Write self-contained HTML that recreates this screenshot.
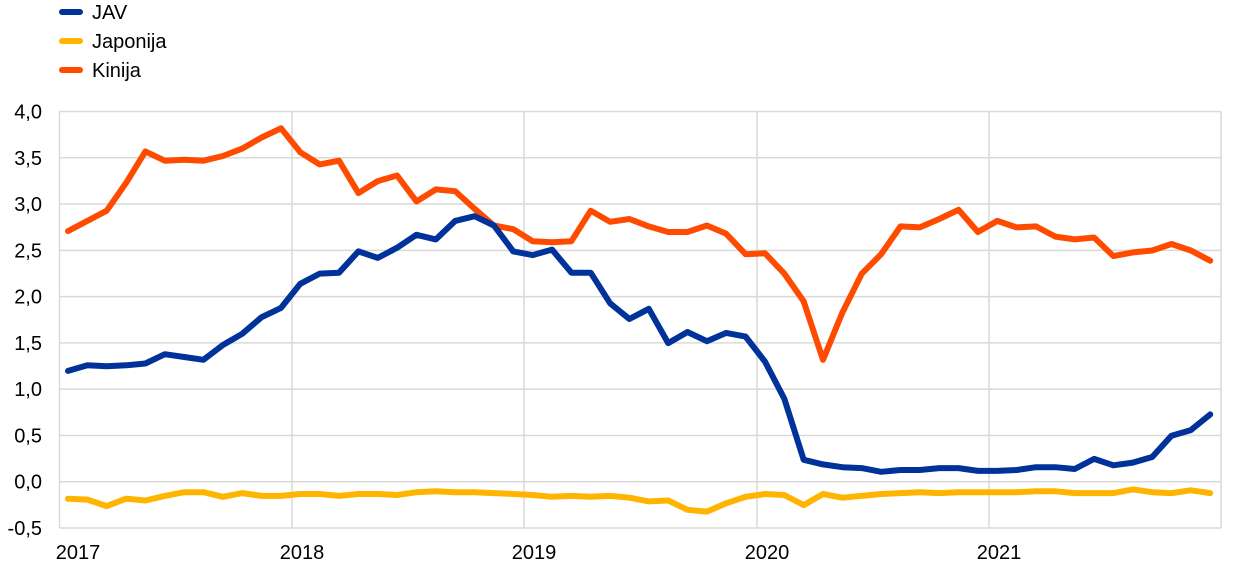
<!DOCTYPE html>
<html><head><meta charset="utf-8"><style>
body{margin:0;background:#fff;}
svg text{font-family:"Liberation Sans",Arial,sans-serif;fill:#000;}
</style></head><body>
<svg id="c" width="1240" height="578" xmlns="http://www.w3.org/2000/svg">
<g stroke="#d9d9d9" stroke-width="1.5" fill="none" id="grid"></g>
<g font-size="20" text-anchor="end" id="yl"></g>
<g font-size="20" text-anchor="middle">
<text x="78" y="559">2017</text><text x="302" y="559">2018</text><text x="534" y="559">2019</text><text x="767" y="559">2020</text><text x="999" y="559">2021</text>
</g>
<g stroke-width="6" stroke-linecap="round">
<line x1="62" y1="12" x2="80" y2="12" stroke="#003299"/>
<line x1="62" y1="41" x2="80" y2="41" stroke="#FFB400"/>
<line x1="62" y1="70" x2="80" y2="70" stroke="#FF4B00"/>
</g>
<g font-size="20"><text x="92" y="19">JAV</text><text x="92" y="48">Japonija</text><text x="92" y="77">Kinija</text></g>
<g id="series" fill="none" stroke-width="6" stroke-linejoin="round" stroke-linecap="round"></g>
</svg>
<script>
var ns="http://www.w3.org/2000/svg",L=59.5,R=1221,T=111.5,B=528;
function y(v){return 482-v*92.6;}
var g=document.getElementById('grid'),yl=document.getElementById('yl');
for(var i=0;i<=9;i++){var v=4-i*0.5,yy=T+i*(B-T)/9;
var l=document.createElementNS(ns,'line');l.setAttribute('x1',L);l.setAttribute('x2',R);l.setAttribute('y1',yy);l.setAttribute('y2',yy);g.appendChild(l);
var t=document.createElementNS(ns,'text');t.setAttribute('x',42);t.setAttribute('y',yy+7);t.textContent=v.toFixed(1).replace('.',',');yl.appendChild(t);}
[L,292,524,757,989,R].forEach(function(x){var l=document.createElementNS(ns,'line');l.setAttribute('x1',x);l.setAttribute('x2',x);l.setAttribute('y1',T);l.setAttribute('y2',B);g.appendChild(l);});
var jav=[1.2,1.26,1.25,1.26,1.28,1.38,1.35,1.32,1.48,1.6,1.78,1.88,2.14,2.25,2.26,2.49,2.42,2.53,2.67,2.62,2.82,2.87,2.77,2.49,2.45,2.51,2.26,2.26,1.93,1.76,1.87,1.5,1.62,1.52,1.61,1.57,1.3,0.9,0.24,0.19,0.16,0.15,0.11,0.13,0.13,0.15,0.15,0.12,0.12,0.13,0.16,0.16,0.14,0.25,0.18,0.21,0.27,0.5,0.56,0.73];
var jp=[-0.18,-0.19,-0.26,-0.18,-0.2,-0.15,-0.11,-0.11,-0.16,-0.12,-0.15,-0.15,-0.13,-0.13,-0.15,-0.13,-0.13,-0.14,-0.11,-0.1,-0.11,-0.11,-0.12,-0.13,-0.14,-0.16,-0.15,-0.16,-0.15,-0.17,-0.21,-0.2,-0.3,-0.32,-0.23,-0.16,-0.13,-0.14,-0.25,-0.13,-0.17,-0.15,-0.13,-0.12,-0.11,-0.12,-0.11,-0.11,-0.11,-0.11,-0.1,-0.1,-0.12,-0.12,-0.12,-0.08,-0.11,-0.12,-0.09,-0.12];
var cn=[2.71,2.82,2.93,3.23,3.57,3.47,3.48,3.47,3.52,3.6,3.72,3.82,3.56,3.43,3.47,3.12,3.25,3.31,3.03,3.16,3.14,2.95,2.77,2.73,2.6,2.59,2.6,2.93,2.81,2.84,2.76,2.7,2.7,2.77,2.68,2.46,2.47,2.25,1.95,1.32,1.83,2.25,2.46,2.76,2.75,2.84,2.94,2.7,2.82,2.75,2.76,2.65,2.62,2.64,2.44,2.48,2.5,2.57,2.5,2.39];
var s=document.getElementById('series');
[[jp,'#FFB400'],[cn,'#FF4B00'],[jav,'#003299']].forEach(function(d){
var p=d[0].map(function(v,i){return (68+i*19.36).toFixed(1)+','+y(v).toFixed(1);}).join(' ');
var pl=document.createElementNS(ns,'polyline');pl.setAttribute('points',p);pl.setAttribute('stroke',d[1]);s.appendChild(pl);});
</script>
</body></html>
